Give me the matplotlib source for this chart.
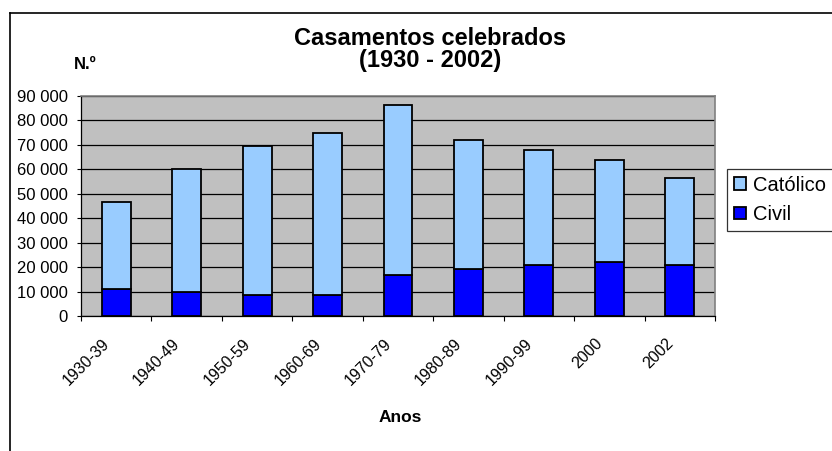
import numpy as np
import matplotlib.pyplot as plt
from matplotlib.lines import Line2D
from matplotlib.transforms import ScaledTranslation

# Data
anos = ['1930-39', '1940-49', '1950-59', '1960-69', '1970-79',
        '1980-89', '1990-99', '2000', '2002']
total = [46800, 60000, 69500, 75000, 86500, 72000, 67900, 63800, 56500]
civil = [10900, 9700, 8500, 8500, 16800, 19200, 21000, 22200, 21000]
catolico = [t - c for t, c in zip(total, civil)]

plt.rcParams['font.family'] = ['Liberation Sans', 'DejaVu Sans']

fig = plt.figure(figsize=(8.32, 4.51), dpi=100)
ax = fig.add_axes([81 / 832, 1 - 316 / 451, 634 / 832, 220 / 451])
ax.set_facecolor('#C0C0C0')

x = np.arange(len(anos))
ax.bar(x, civil, width=0.41, color='#0000FF', edgecolor='black', linewidth=1.3,
       label='Civil', zorder=3)
ax.bar(x, catolico, bottom=civil, width=0.41, color='#99CCFF', edgecolor='black',
       linewidth=1.3, label='Católico', zorder=3)

ax.set_xlim(-0.5, len(anos) - 0.5)
ax.set_ylim(0, 90000)
yt = np.arange(0, 90001, 10000)
ax.set_yticks(yt)
ax.set_yticklabels([f'{v:,}'.replace(',', ' ') for v in yt], fontsize=12)
ax.yaxis.grid(True, color='black', linewidth=0.9, zorder=1)
ax.set_axisbelow(True)

# category ticks between bars, labels under bars
ax.set_xticks(np.arange(-0.5, len(anos)), minor=False)
ax.set_xticklabels([])
ax.set_xticks(x, minor=True)
ax.set_xticklabels(anos, minor=True, rotation=45, ha='right', va='center',
                   rotation_mode='anchor', fontsize=11.5)
ax.tick_params(axis='x', which='minor', length=0, pad=18)
ax.tick_params(axis='x', which='major', length=3.5, width=0.8, direction='out')
ax.tick_params(axis='y', length=3, width=0.8, pad=6.5)
shift = ScaledTranslation(-9 / 100, 0, fig.dpi_scale_trans)
for lbl in ax.get_xticklabels(minor=True):
    lbl.set_transform(lbl.get_transform() + shift)

for s in ['top', 'right']:
    ax.spines[s].set_color('#808080')
    ax.spines[s].set_linewidth(1.2)
for s in ['left', 'bottom']:
    ax.spines[s].set_color('black')
    ax.spines[s].set_linewidth(0.9)

# Titles
fig.text(430 / 832, 1 - 45 / 451, 'Casamentos celebrados', ha='center',
         va='baseline', fontsize=17, fontweight='bold')
fig.text(430 / 832, 1 - 67 / 451, '(1930 - 2002)', ha='center',
         va='baseline', fontsize=17, fontweight='bold')
fig.text(85 / 832, 1 - 69 / 451, 'N.º', ha='center', va='baseline',
         fontsize=12, fontweight='bold')
fig.text(400 / 832, 1 - 422 / 451, 'Anos', ha='center', va='baseline',
         fontsize=12.5, fontweight='bold')

# Legend
h, l = ax.get_legend_handles_labels()
leg = fig.legend(h[::-1], l[::-1], loc='center left',
                 bbox_to_anchor=(727 / 832, 1 - 200 / 451), fontsize=14.5,
                 frameon=True, fancybox=False, edgecolor='black',
                 handlelength=0.6, handleheight=0.6, handletextpad=0.35,
                 borderpad=0.35, labelspacing=0.5, borderaxespad=0)
leg.get_frame().set_linewidth(0.9)

# Chart border
fig.add_artist(Line2D([10 / 832, 1], [1 - 12.5 / 451] * 2, color='black', lw=1.2,
                      transform=fig.transFigure))
fig.add_artist(Line2D([10 / 832] * 2, [0, 1 - 12.5 / 451], color='black', lw=1.2,
                      transform=fig.transFigure))

fig.savefig('out.png', dpi=100)
